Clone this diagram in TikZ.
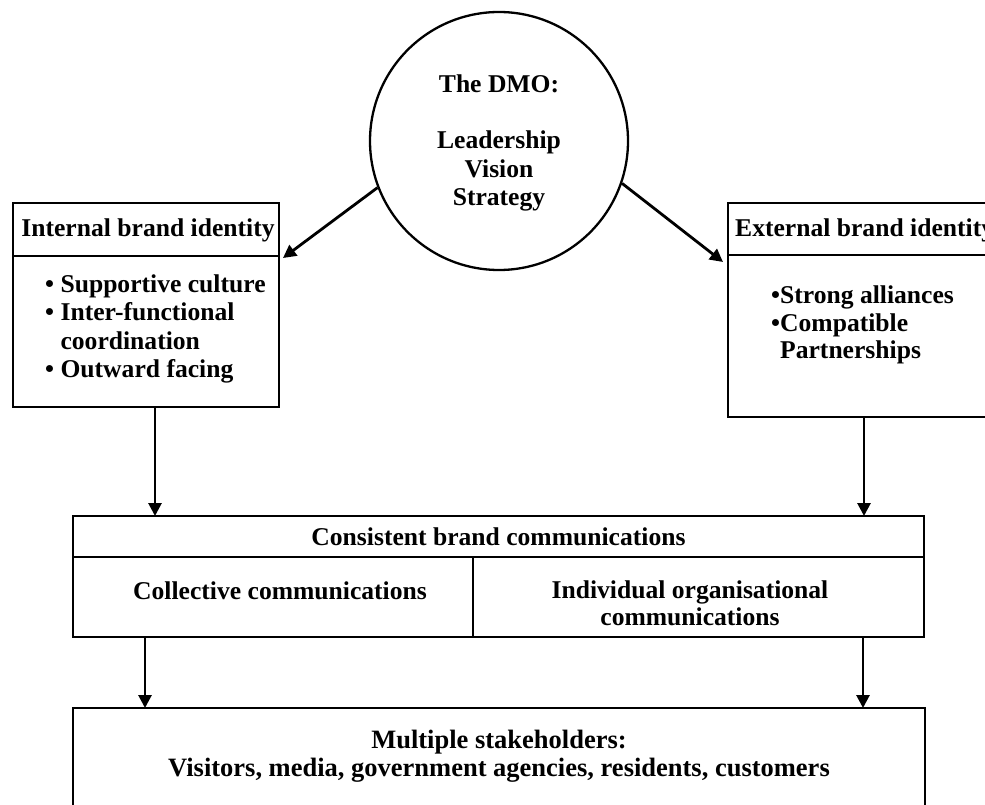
\documentclass[tikz,border=0pt]{standalone}
\usepackage{fontspec}
\setmainfont{Liberation Serif}
\usetikzlibrary{arrows.meta}
\begin{document}
\begin{tikzpicture}[x=1pt,y=-1pt,
  frame/.style={draw, line width=2.8pt, rectangle, inner sep=0pt, outer sep=0pt, anchor=north west},
  lbl/.style={font=\fontsize{25.6}{28.5}\selectfont\bfseries, inner sep=0pt, align=center},
  lbll/.style={font=\fontsize{25.6}{28.5}\selectfont\bfseries, inner sep=0pt, align=left},
  flow/.style={line width=2.8pt, -{Triangle[length=13pt,width=13pt]}},
]
\clip (0,0) rectangle (985,805);

% central circle
\node[draw, circle, line width=2.3pt, minimum size=258pt, inner sep=0pt] (dmo) at (499,141) {};
\node[lbl] (dmotxt) at (499,143) {The DMO:\\[28pt]Leadership\\Vision\\Strategy};

% internal brand identity
\node[frame, minimum width=266pt, minimum height=53pt] (inthead) at (13,203) {};
\node[frame, minimum width=266pt, minimum height=151pt] (intbody) at (13,256) {};
\node[lbl] (inttitle) at (148,230) {Internal brand identity};
\node[lbll, anchor=west] (intlist) at (45,329)
  {• Supportive culture\\• Inter-functional\\\phantom{• }coordination\\• Outward facing};

% external brand identity
\node[frame, minimum width=272pt, minimum height=52pt] (exthead) at (728,203) {};
\node[frame, minimum width=272pt, minimum height=162pt] (extbody) at (728,255) {};
\node[lbll, anchor=west] (exttitle) at (735,230) {External brand identity};
\node[lbll, anchor=west, font=\fontsize{25.6}{27.5}\selectfont\bfseries] (extlist) at (771,325)
  {•Strong alliances\\•Compatible\\\phantom{•}Partnerships};

% consistent brand communications
\node[frame, minimum width=851pt, minimum height=41pt] (cbhead) at (73,516) {};
\node[frame, minimum width=400pt, minimum height=80pt] (cbleft) at (73,557) {};
\node[frame, minimum width=451pt, minimum height=80pt] (cbright) at (473,557) {};
\node[lbl] (cbtitle) at (cbhead.center) {Consistent brand communications};
\node[lbl] (cbltxt) at (280,591) {Collective communications};
\node[lbl, font=\fontsize{25.6}{27}\selectfont\bfseries] (cbrtxt) at (690,603) {Individual organisational\\communications};

% stakeholders
\node[frame, minimum width=852pt, minimum height=150pt] (stake) at (73,708) {};
\node[lbl, font=\fontsize{26.5}{28.5}\selectfont\bfseries] (staketxt) at (499,756) {Multiple stakeholders:\\Visitors, media, government agencies, residents, customers};

% connectors
\draw[flow] (dmo.201) -- ([shift={(4,2)}]intbody.north east);
\draw[flow] (dmo.-19) -- ([shift={(-5,7)}]extbody.north west);
\draw[flow] ([xshift=9pt]intbody.south) -- ([xshift=9pt]intbody.south |- cbhead.north);
\draw[flow] (extbody.south) -- (extbody.south |- cbhead.north);
\draw[flow] ([xshift=72pt]cbleft.south west) -- ([xshift=72pt]cbleft.south west |- stake.north);
\draw[flow] ([xshift=-61pt]cbright.south east) -- ([xshift=-61pt]cbright.south east |- stake.north);
\end{tikzpicture}
\end{document}
